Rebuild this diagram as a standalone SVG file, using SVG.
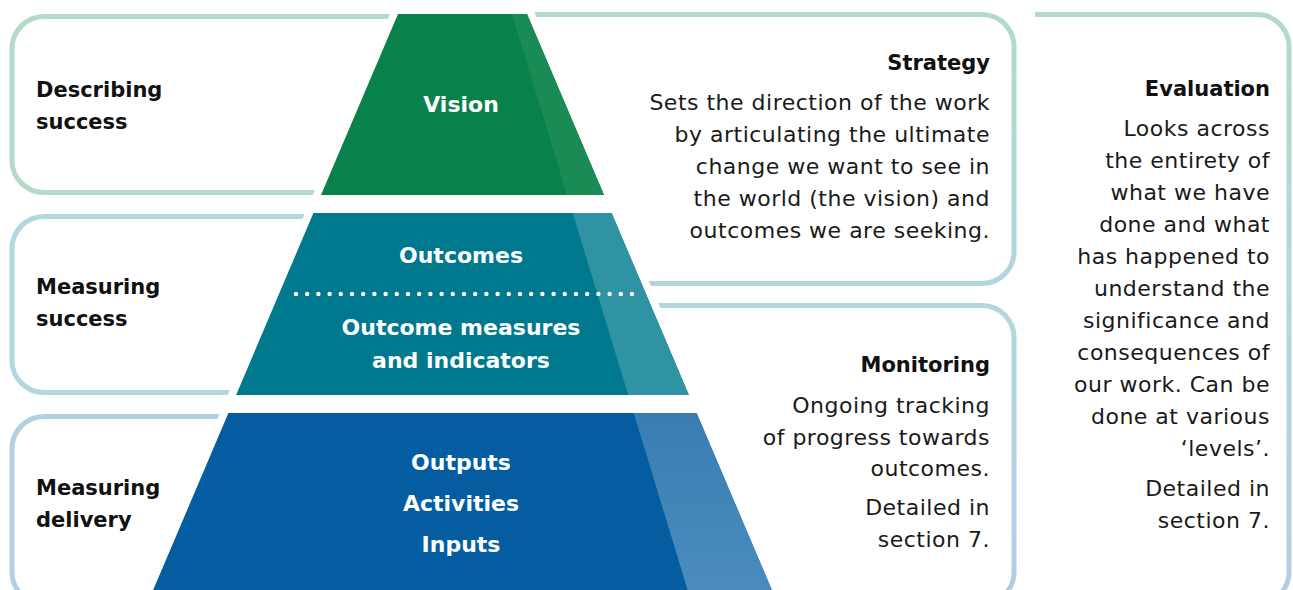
<svg xmlns="http://www.w3.org/2000/svg" width="1293" height="590" viewBox="0 0 1293 590">
  <defs>
    <linearGradient id="gStrategy" x1="0" y1="0" x2="0" y2="1">
      <stop offset="0" stop-color="#b3dbc8"/>
      <stop offset="1" stop-color="#b1d6e0"/>
    </linearGradient>
    <linearGradient id="gMonitoring" x1="0" y1="0" x2="0" y2="1">
      <stop offset="0" stop-color="#b1d8df"/>
      <stop offset="1" stop-color="#b6cde2"/>
    </linearGradient>
    <linearGradient id="gEvaluation" x1="0" y1="0" x2="0" y2="1">
      <stop offset="0" stop-color="#b3dbc8"/>
      <stop offset="0.5" stop-color="#b1d8df"/>
      <stop offset="1" stop-color="#b6cde2"/>
    </linearGradient>
    <linearGradient id="blueStripe" gradientUnits="userSpaceOnUse" x1="0" y1="413" x2="0" y2="590">
      <stop offset="0" stop-color="#3a7db3"/>
      <stop offset="1" stop-color="#4a8cbe"/>
    </linearGradient>
    <style>
      .box { fill: none; stroke-width: 5; stroke-linecap: butt; }
      .lbl { font-family: "DejaVu Sans", "Liberation Sans", sans-serif; font-weight: bold; font-size: 21px; fill: #111; }
      .ttl { font-family: "DejaVu Sans", "Liberation Sans", sans-serif; font-weight: bold; font-size: 21px; fill: #111; text-anchor: end; }
      .body { font-family: "DejaVu Sans", "Liberation Sans", sans-serif; font-size: 22px; letter-spacing: 0.5px; fill: #1a1a1a; text-anchor: end; }
      .pyr { font-family: "DejaVu Sans", "Liberation Sans", sans-serif; font-weight: bold; font-size: 22px; fill: #ffffff; text-anchor: middle; }
    </style>
  </defs>
  <rect x="0" y="0" width="1293" height="590" fill="#ffffff"/>

  <!-- Boxes (borders) -->
  <g id="box-describing">
    <path class="box" stroke="#b3dbc8" d="M450,16.5 H44 A32,32 0 0 0 12,48.5 V160.5 A32,32 0 0 0 44,192.5 H450"/>
  </g>
  <g id="box-measuring-success">
    <path class="box" stroke="#b2d8df" d="M450,216.5 H44 A32,32 0 0 0 12,248.5 V360.5 A32,32 0 0 0 44,392.5 H450"/>
  </g>
  <g id="box-measuring-delivery">
    <path class="box" stroke="#b5cfe2" d="M450,416.5 H44 A32,32 0 0 0 12,448.5 V572 A32,32 0 0 0 44,604 H450"/>
  </g>
  <g id="box-strategy">
    <path class="box" stroke="url(#gStrategy)" d="M450,14.5 H982 A32,32 0 0 1 1014,46.5 V251.5 A32,32 0 0 1 982,283.5 H450"/>
  </g>
  <g id="box-monitoring">
    <path class="box" stroke="url(#gMonitoring)" d="M600,305.5 H982 A32,32 0 0 1 1014,337.5 V572 A32,32 0 0 1 982,604 H600"/>
  </g>
  <g id="box-evaluation">
    <path class="box" stroke="url(#gEvaluation)" d="M1035,14.5 H1257 A32,32 0 0 1 1289,46.5 V572 A32,32 0 0 1 1257,604"/>
  </g>

  <!-- White knock-out around pyramid -->
  <polygon points="398,14 527,14 785,620 140,620" fill="#ffffff" stroke="#ffffff" stroke-width="15" stroke-linejoin="miter"/>

  <!-- Pyramid tiers -->
  <g id="tier-vision">
    <polygon points="398,14 527,14 604,195 321,195" fill="#08814a"/>
    <polygon points="512,14 527,14 604,195 567,195" fill="#1b8b56"/>
    <text class="pyr" x="461" y="112">Vision</text>
  </g>
  <g id="tier-outcomes">
    <polygon points="313.4,213 611.6,213 688.9,395 236.1,395" fill="#00798f"/>
    <polygon points="572.7,213 611.6,213 688.9,395 628.2,395" fill="#2f93a3"/>
    <text class="pyr" x="461" y="263">Outcomes</text>
    <line x1="296" y1="294" x2="634" y2="294" stroke="#ffffff" stroke-width="4.4" stroke-linecap="round" stroke-dasharray="0 11.2"/>
    <text class="pyr" x="461" y="335">Outcome measures</text>
    <text class="pyr" x="461" y="368">and indicators</text>
  </g>
  <g id="tier-delivery">
    <polygon points="228.4,413 696.6,413 776.1,600 148.9,600" fill="#035da0"/>
    <polygon points="633.7,413 696.6,413 776.1,600 690.7,600" fill="url(#blueStripe)"/>
    <text class="pyr" x="461" y="470">Outputs</text>
    <text class="pyr" x="461" y="511">Activities</text>
    <text class="pyr" x="461" y="552">Inputs</text>
  </g>

  <!-- Left labels -->
  <g id="label-describing">
    <text class="lbl" x="36" y="97">Describing</text>
    <text class="lbl" x="36" y="129">success</text>
  </g>
  <g id="label-measuring-success">
    <text class="lbl" x="36" y="294">Measuring</text>
    <text class="lbl" x="36" y="326">success</text>
  </g>
  <g id="label-measuring-delivery">
    <text class="lbl" x="36" y="495">Measuring</text>
    <text class="lbl" x="36" y="527">delivery</text>
  </g>

  <!-- Right texts -->
  <g id="text-strategy">
    <text class="ttl" x="990" y="70">Strategy</text>
    <text class="body" x="990" y="110">Sets the direction of the work</text>
    <text class="body" x="990" y="142">by articulating the ultimate</text>
    <text class="body" x="990" y="174">change we want to see in</text>
    <text class="body" x="990" y="206">the world (the vision) and</text>
    <text class="body" x="990" y="238">outcomes we are seeking.</text>
  </g>
  <g id="text-monitoring">
    <text class="ttl" x="990" y="372">Monitoring</text>
    <text class="body" x="990" y="413">Ongoing tracking</text>
    <text class="body" x="990" y="445">of progress towards</text>
    <text class="body" x="990" y="476">outcomes.</text>
    <text class="body" x="990" y="515">Detailed in</text>
    <text class="body" x="990" y="547">section 7.</text>
  </g>
  <g id="text-evaluation">
    <text class="ttl" x="1270" y="96">Evaluation</text>
    <text class="body" x="1270" y="136">Looks across</text>
    <text class="body" x="1270" y="168">the entirety of</text>
    <text class="body" x="1270" y="200">what we have</text>
    <text class="body" x="1270" y="232">done and what</text>
    <text class="body" x="1270" y="264">has happened to</text>
    <text class="body" x="1270" y="296">understand the</text>
    <text class="body" x="1270" y="328">significance and</text>
    <text class="body" x="1270" y="360">consequences of</text>
    <text class="body" x="1270" y="392">our work. Can be</text>
    <text class="body" x="1270" y="424">done at various</text>
    <text class="body" x="1270" y="456">‘levels’.</text>
    <text class="body" x="1270" y="496">Detailed in</text>
    <text class="body" x="1270" y="528">section 7.</text>
  </g>

  <g id="connectors"/>
</svg>
